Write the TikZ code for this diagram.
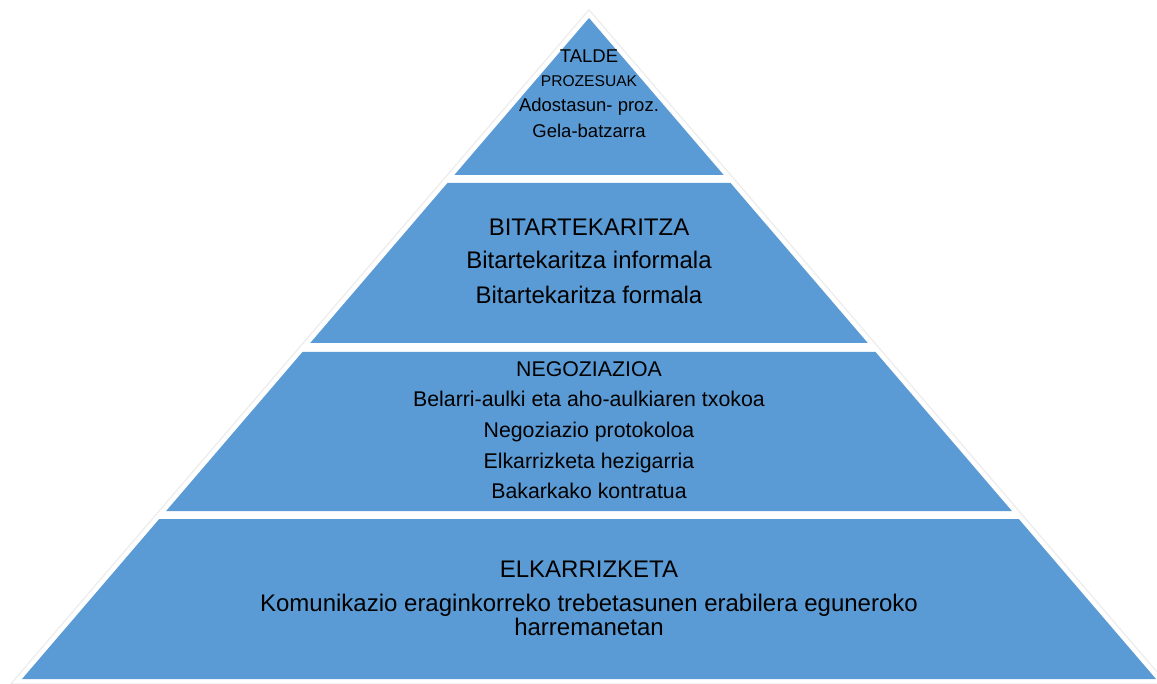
\documentclass[tikz,border=0pt]{standalone}
\usepackage{fontspec}
\setmainfont{Liberation Sans}
\definecolor{pyrblue}{HTML}{5B9BD5}
\definecolor{shadowgray}{HTML}{EDEDED}
\begin{document}
\begin{tikzpicture}[x=1pt,y=-1pt,
  layer/.style={fill=pyrblue,draw=none},
  txt/.style={anchor=base,inner sep=0pt,text=black},
  fA/.style={font=\fontsize{24}{28}\selectfont},
  fB/.style={font=\fontsize{21.3}{25}\selectfont},
  fC/.style={font=\fontsize{18.5}{22}\selectfont},
  fD/.style={font=\fontsize{15.6}{18}\selectfont}]
\useasboundingbox (0,0) rectangle (1157,684);
\fill[white] (0,0) rectangle (1157,684);
% outer faint shadow outline
\draw[shadowgray,line width=1.2pt,line join=round] (589,9.8) -- (10.7,684) -- (1167.3,684) -- cycle;
\def\kk{0.85779}
% layers
\fill[layer] (589,18) -- ({589-\kk*157},175) -- ({589+\kk*157},175) -- cycle;
\fill[layer] ({589-\kk*165},183) -- ({589+\kk*165},183) -- ({589+\kk*325},343) -- ({589-\kk*325},343) -- cycle;
\fill[layer] ({589-\kk*334},352) -- ({589+\kk*334},352) -- ({589+\kk*493},511) -- ({589-\kk*493},511) -- cycle;
\fill[layer] ({589-\kk*501},519) -- ({589+\kk*501},519) -- ({589+\kk*661},679) -- ({589-\kk*661},679) -- cycle;
% layer 1 texts
\node[txt,fC] (t1a) at (589,63) {TALDE};
\node[txt,fD] (t1b) at (589,87) {PROZESUAK};
\node[txt,fC] (t1c) at (589,112) {Adostasun- proz.};
\node[txt,fC] (t1d) at (589,138) {Gela-batzarra};
% layer 2 texts
\node[txt,fA] (t2a) at (589,236) {BITARTEKARITZA};
\node[txt,fA] (t2b) at (589,269) {Bitartekaritza informala};
\node[txt,fA] (t2c) at (589,304) {Bitartekaritza formala};
% layer 3 texts
\node[txt,fB] (t3a) at (589,377) {NEGOZIAZIOA};
\node[txt,fB] (t3b) at (589,407) {Belarri-aulki eta aho-aulkiaren txokoa};
\node[txt,fB] (t3c) at (589,438) {Negoziazio protokoloa};
\node[txt,fB] (t3d) at (589,468) {Elkarrizketa hezigarria};
\node[txt,fB] (t3e) at (589,498) {Bakarkako kontratua};
% layer 4 texts
\node[txt,fA] (t4a) at (589,577) {ELKARRIZKETA};
\node[txt,fA] (t4b) at (589,611) {Komunikazio eraginkorreko trebetasunen erabilera eguneroko};
\node[txt,fA] (t4c) at (589,635) {harremanetan};
\end{tikzpicture}
\end{document}
